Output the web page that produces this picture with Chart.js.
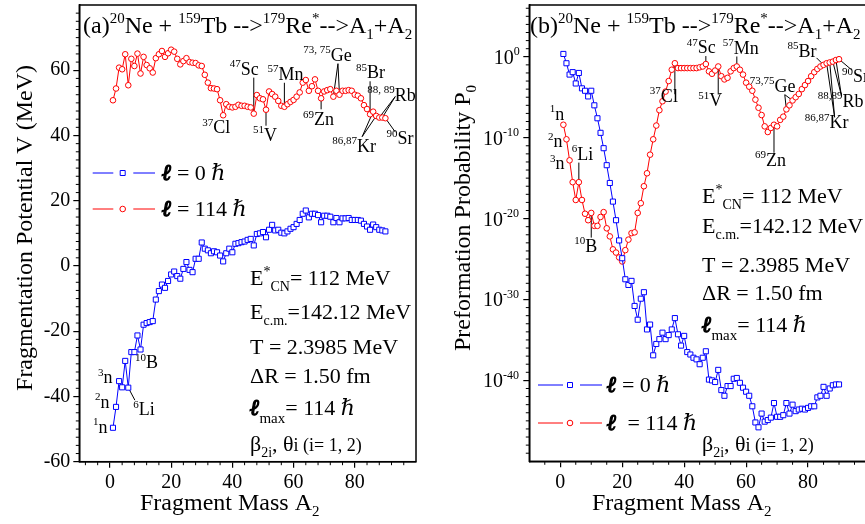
<!DOCTYPE html>
<html lang="en">
<head>
<meta charset="utf-8">
<title>Fragmentation potential and preformation probability</title>
<script src="https://cdn.jsdelivr.net/npm/chart.js@4.4.1/dist/chart.umd.min.js"></script>
<style>
  html, body { margin: 0; padding: 0; background: #fff; overflow: hidden; }
  #wrap { position: relative; width: 865px; height: 524px; overflow: hidden; }
  canvas { position: absolute; top: 0; }
</style>
</head>
<body>
<div id="wrap">
  <canvas id="potChart" width="440" height="524" style="left:0"></canvas>
  <canvas id="probChart" width="440" height="524" style="left:440px"></canvas>
</div>
<script>
// fragment mass A2 (x values of every series)
const fragMass = [1,2,3,4,5,6,7,8,9,10,11,12,13,14,15,16,17,18,19,20,
  21,22,23,24,25,26,27,28,29,30,31,32,33,34,35,36,37,38,39,40,
  41,42,43,44,45,46,47,48,49,50,51,52,53,54,55,56,57,58,59,60,
  61,62,63,64,65,66,67,68,69,70,71,72,73,74,75,76,77,78,79,80,
  81,82,83,84,85,86,87,88,89,90];

// (a) fragmentation potential V (MeV)
const potL0 = [-49.6,-43.2,-35.3,-37.2,-29.1,-37.3,-26.4,-26.4,-21.3,-25.6,
  -18.0,-17.5,-17.2,-16.9,-10.3,-7.7,-5.7,-6.7,-4.6,-2.6,
  -1.7,-3.1,-3.9,-0.9,1.2,-1.2,-1.9,2.2,2.2,7.2,
  5.3,4.8,3.9,4.5,4.2,3.2,1.4,3.9,5.3,4.2,
  6.8,7.0,7.3,7.5,8.0,8.3,6.3,9.8,10.0,10.4,
  8.8,11.1,12.6,10.9,11.1,10.2,10.0,10.6,11.4,11.9,
  12.9,14.1,16.0,17.0,14.9,16.0,16.0,15.6,13.4,15.4,
  15.4,15.1,13.4,14.7,13.4,14.6,14.6,14.7,14.1,14.1,
  14.1,13.9,12.9,12.1,11.1,12.7,11.9,11.1,10.9,10.6];
const potL114 = [50.8,54.4,60.8,60.3,64.9,55.4,63.5,61.3,65.1,59.0,
  64.1,61.6,60.6,59.3,63.7,64.9,65.9,64.1,65.2,66.3,
  65.7,63.5,61.8,62.8,63.7,62.5,62.3,62.2,61.5,61.3,
  58.6,56.2,54.5,54.4,54.2,50.8,46.2,49.6,48.8,48.6,
  48.8,49.4,49.1,49.1,48.8,48.6,46.7,52.4,51.4,51.1,
  47.9,53.5,52.7,51.9,50.6,49.1,48.8,49.6,50.3,50.9,
  51.9,53.2,56.2,57.0,53.7,55.1,57.2,53.7,51.4,53.5,
  53.9,54.2,51.9,53.7,52.5,53.7,53.7,53.9,53.7,52.5,
  52.2,51.4,49.3,48.1,46.5,47.3,46.0,45.5,45.5,45.3];

// (b) preformation probability P0, stored as log10(P0)
const logP0L0 = [0.35,-0.8,-2.2,-1.9,-3.3,-2.0,-3.9,-4.2,-4.9,-4.2,
  -6.0,-7.6,-9.4,-11.3,-13.4,-15.6,-17.9,-20.2,-22.7,-24.9,
  -27.5,-28.2,-27.7,-30.8,-32.5,-29.9,-29.1,-33.7,-33.1,-36.9,
  -35.5,-34.9,-34.1,-34.9,-34.4,-33.7,-32.3,-34.3,-35.7,-34.5,
  -36.5,-36.8,-37.2,-37.4,-38.0,-37.2,-36.4,-39.9,-40.0,-40.2,
  -38.7,-41.2,-41.9,-40.7,-40.7,-39.8,-39.7,-40.3,-40.9,-41.4,
  -41.9,-43.2,-45.2,-45.8,-44.1,-45.1,-44.9,-44.6,-42.8,-44.5,
  -44.5,-44.3,-42.8,-44.1,-43.0,-43.8,-43.6,-43.5,-43.6,-43.4,
  -43.2,-43.2,-42.1,-41.9,-40.8,-41.9,-41.0,-40.6,-40.5,-40.5];
const logP0L114 = [-8.4,-10.2,-12.8,-15.5,-17.7,-15.5,-17.7,-19.4,-20.2,-19.3,
  -20.9,-20.9,-19.8,-19.2,-21.2,-22.2,-23.8,-24.2,-24.8,-25.3,
  -23.9,-22.6,-21.8,-21.7,-19.3,-18.1,-16.0,-14.4,-12.1,-10.2,
  -8.5,-6.6,-5.5,-4.3,-3.0,-1.6,-0.8,-1.4,-1.4,-1.4,
  -1.4,-1.4,-1.4,-1.4,-1.3,-1.2,-0.9,-1.8,-2.1,-1.7,
  -1.2,-2.4,-2.8,-2.6,-1.8,-1.4,-1.2,-1.6,-2.2,-3.2,
  -3.7,-4.2,-5.3,-6.3,-7.2,-8.6,-9.3,-8.8,-8.4,-8.6,
  -7.8,-7.4,-6.5,-6.0,-5.4,-5.0,-4.6,-4.0,-3.5,-3.0,
  -2.4,-1.9,-1.5,-1.2,-1.0,-0.8,-0.7,-0.6,-0.4,-0.3];

// tick labels
const massTicks = [0, 20, 40, 60, 80];
const potTicks = [-60, -40, -20, 0, 20, 40, 60];
const probTickExp = [0, -10, -20, -30, -40];

const SERIF = "'Liberation Serif','DejaVu Serif','Times New Roman',serif";
const BLUE = '#0000ff';
const RED = '#ff0000';

function font(size, style) {
  return (style ? style + ' ' : '') + size + 'px ' + SERIF;
}

// text with super/subscripts: parts = [text, kind, style]
const KINDS = {
  n: [1, 0], sup: [0.62, -0.42], sub: [0.62, 0.26], lsub: [0.66, 0.38], sm: [0.82, 0]
};
function rich(ctx, x, y, parts, size) {
  ctx.save();
  ctx.fillStyle = '#000';
  ctx.strokeStyle = '#000';
  ctx.textAlign = 'left';
  ctx.textBaseline = 'alphabetic';
  for (const [t, k, st] of parts) {
    const [f, d] = KINDS[k || 'n'];
    ctx.font = font(Math.round(size * f), st);
    ctx.fillText(t, x, y + d * size);
    if (st && st.indexOf('bold') >= 0) {
      // heavier script l, as in the original
      ctx.lineWidth = 1.3;
      ctx.strokeText(t, x, y + d * size);
    }
    x += ctx.measureText(t).width;
  }
  ctx.restore();
  return x;
}

function reaction(tag) {
  return [[tag], ['20', 'sup'], ['Ne + '], ['159', 'sup'], ['Tb -->'], ['179', 'sup'],
    ['Re'], ['*', 'sup'], ['-->A'], ['1', 'sub'], ['+A'], ['2', 'sub']];
}

const paramLines = [
  [['E'], ['*', 'sup'], ['CN', 'sub'], ['= 112 MeV']],
  [['E'], ['c.m.', 'sub'], ['=142.12 MeV']],
  [['T = 2.3985 MeV']],
  [['\u0394R = 1.50 fm']],
  [['\u2113', 'n', 'bold italic'], ['max', 'lsub'], ['= 114 '], ['\u210F', 'n', 'italic']],
  [['\u03B2'], ['2i', 'sub'], [', \u03B8'], ['i (i= 1, 2)', 'sm']]
];

function marker(ctx, shape, color, x, y) {
  ctx.save();
  ctx.strokeStyle = color;
  ctx.fillStyle = '#fff';
  ctx.lineWidth = 1;
  ctx.beginPath();
  if (shape === 'rect') ctx.rect(x - 2.5, y - 2.5, 5, 5);
  else ctx.arc(x, y, 2.8, 0, Math.PI * 2);
  ctx.fill();
  ctx.stroke();
  ctx.restore();
}

function legendRow(ctx, row) {
  ctx.save();
  ctx.strokeStyle = row.color;
  ctx.lineWidth = 1;
  ctx.beginPath();
  ctx.moveTo(row.segs[0], row.y); ctx.lineTo(row.segs[1], row.y);
  ctx.moveTo(row.segs[2], row.y); ctx.lineTo(row.segs[3], row.y);
  ctx.stroke();
  ctx.restore();
  marker(ctx, row.shape, row.color, row.mx, row.y);
  rich(ctx, row.tx, row.y + 7, row.text, 22);
}

function isoLabel(ctx, x, y, mass, sym) {
  rich(ctx, x, y, [[mass, 'sup'], [sym]], 18);
}

function minorTicks(chart, axis, values, len) {
  const sc = chart.scales[axis], ca = chart.chartArea, ctx = chart.ctx;
  ctx.save();
  ctx.strokeStyle = '#000';
  ctx.lineWidth = 1;
  ctx.beginPath();
  values.forEach(v => {
    const p = sc.getPixelForValue(v);
    if (axis === 'x') { ctx.moveTo(p, ca.bottom); ctx.lineTo(p, ca.bottom + len); }
    else { ctx.moveTo(ca.left, p); ctx.lineTo(ca.left - len, p); }
  });
  ctx.stroke();
  ctx.restore();
}

// plugin that draws frame, minor ticks, titles, legend and isotope labels
function makeDecor(cfg) {
  return {
    id: 'decor',
    beforeDatasetsDraw(chart) {
      const ctx = chart.ctx;
      ctx.save();
      ctx.strokeStyle = '#000';
      ctx.lineWidth = 1;
      cfg.labels.forEach(l => {
        if (!l.from) return;
        const meta = chart.getDatasetMeta(l.ds);
        const p0 = meta.data[l.pts[0] - 1];
        const fx = p0.x + l.from[0], fy = p0.y + l.from[1];
        l.pts.forEach(a => {
          const p = meta.data[a - 1];
          ctx.beginPath();
          ctx.moveTo(fx, fy);
          ctx.lineTo(p.x, p.y);
          ctx.stroke();
        });
      });
      ctx.restore();
    },
    afterDraw(chart) {
      const ctx = chart.ctx, ca = chart.chartArea;
      minorTicks(chart, 'x', cfg.minorX, 3.5);
      minorTicks(chart, 'y', cfg.minorY, 3.5);
      ctx.save();
      ctx.strokeStyle = '#000';
      ctx.lineWidth = 1.5;
      ctx.strokeRect(ca.left, ca.top, ca.right - ca.left, ca.bottom - ca.top);
      ctx.restore();
      if (cfg.extra) cfg.extra(chart);
      // axis titles
      rich(ctx, cfg.xTitle.x, 510, [['Fragment Mass A'], ['2', 'sub']], 24);
      ctx.save();
      ctx.translate(cfg.yTitle.x, cfg.yTitle.y);
      ctx.rotate(-Math.PI / 2);
      let w = 0;
      cfg.yTitle.parts.forEach(([t, k]) => {
        ctx.font = font(Math.round(24 * KINDS[k || 'n'][0]));
        w += ctx.measureText(t).width;
      });
      rich(ctx, -w / 2, 8, cfg.yTitle.parts, 24);
      ctx.restore();
      // reaction title
      rich(ctx, cfg.title.x, 33, reaction(cfg.title.tag), 24);
      // legend
      cfg.legend.forEach(row => legendRow(ctx, row));
      // parameter block
      paramLines.forEach((line, i) => rich(ctx, cfg.params.x, cfg.params.ys[i], line, 22));
      // isotope labels
      cfg.labels.forEach(l => {
        const p = chart.getDatasetMeta(l.ds).data[l.pts[0] - 1];
        isoLabel(ctx, p.x + l.dx, p.y + l.dy, l.mass, l.sym);
      });
    }
  };
}

const tickFont = { family: SERIF, size: 20 };

function xAxis(heightPx) {
  return {
    type: 'linear', min: -10, max: 100,
    ticks: { font: tickFont, color: '#000', padding: 3, maxRotation: 0 },
    grid: { drawOnChartArea: false, tickLength: 6, color: '#000', lineWidth: 1.2 },
    border: { color: '#000', width: 1.5 },
    afterBuildTicks: s => { s.ticks = massTicks.map(v => ({ value: v })); },
    afterFit: s => { s.height = heightPx; s.paddingLeft = 0; s.paddingRight = 0; }
  };
}

function series(values, color, shape, transform) {
  return {
    data: fragMass.map((a, i) => ({ x: a, y: transform ? transform(values[i]) : values[i] })),
    borderColor: color,
    borderWidth: 1,
    pointStyle: shape,
    pointRadius: shape === 'rect' ? 3.6 : 2.8,
    pointBorderColor: color,
    pointBackgroundColor: '#fff',
    pointBorderWidth: 1,
    tension: 0,
    fill: false
  };
}

const minorMassA = [];
for (let v = -8; v <= 100; v += 4) if (v % 20 !== 0) minorMassA.push(v);
const minorPot = [];
for (let v = -57.5; v < 80; v += 2.5) if (v % 20 !== 0) minorPot.push(v);
const minorMassB = [];
for (let v = -5; v <= 100; v += 5) if (v % 20 !== 0) minorMassB.push(v);
const minorProb = [];
for (let e = -49; e <= 6; e++) if (e % 10 !== 0) minorProb.push(Math.pow(10, e));

const potLabels = [
  { ds: 1, pts: [37], dx: -21, dy: 18, mass: '37', sym: 'Cl' },
  { ds: 1, pts: [47], dx: -24, dy: -39, mass: '47', sym: 'Sc', from: [0, -36] },
  { ds: 1, pts: [51], dx: -13, dy: 31, mass: '51', sym: 'V', from: [0, 16] },
  { ds: 1, pts: [57], dx: -17, dy: -27, mass: '57', sym: 'Mn', from: [0, -24] },
  { ds: 1, pts: [69], dx: -18, dy: 27, mass: '69', sym: 'Zn', from: [0, 11] },
  { ds: 1, pts: [73, 75], dx: -30, dy: -36, mass: '73, 75', sym: 'Ge', from: [4.6, -33] },
  { ds: 1, pts: [85], dx: -14, dy: -36, mass: '85', sym: 'Br', from: [0, -33] },
  { ds: 1, pts: [88, 89], dx: -12, dy: -17, mass: '88, 89', sym: 'Rb', from: [16, -21] },
  { ds: 1, pts: [86, 87], dx: -41, dy: 40, mass: '86,87', sym: 'Kr', from: [-11, 25] },
  { ds: 1, pts: [90], dx: 1, dy: 26, mass: '90', sym: 'Sr', from: [10, 14] },
  { ds: 0, pts: [1], dx: -20, dy: 5, mass: '1', sym: 'n' },
  { ds: 0, pts: [2], dx: -21, dy: 1, mass: '2', sym: 'n' },
  { ds: 0, pts: [3], dx: -21, dy: 2, mass: '3', sym: 'n' },
  { ds: 0, pts: [6], dx: 5, dy: 27.5, mass: '6', sym: 'Li', from: [6.6, 12.5] },
  { ds: 0, pts: [10], dx: -5.6, dy: 19, mass: '10', sym: 'B' }
];

const probLabels = [
  { ds: 1, pts: [1], dx: -13.5, dy: -5, mass: '1', sym: 'n' },
  { ds: 1, pts: [2], dx: -18.5, dy: 8, mass: '2', sym: 'n' },
  { ds: 1, pts: [3], dx: -19.6, dy: 9, mass: '3', sym: 'n' },
  { ds: 1, pts: [6], dx: -7, dy: -22.6, mass: '6', sym: 'Li', from: [0, -19.6] },
  { ds: 1, pts: [10], dx: -17, dy: 39, mass: '10', sym: 'B', from: [0, 24.7] },
  { ds: 1, pts: [37], dx: -25, dy: 38.5, mass: '37', sym: 'Cl', from: [0, 31] },
  { ds: 1, pts: [47], dx: -19, dy: -11, mass: '47', sym: 'Sc', from: [0, -8] },
  { ds: 1, pts: [51], dx: -20, dy: 40, mass: '51', sym: 'V', from: [0, 28] },
  { ds: 1, pts: [57], dx: -14, dy: -12.7, mass: '57', sym: 'Mn', from: [0, -10] },
  { ds: 1, pts: [73, 75], dx: -36.6, dy: -17.7, mass: '73,75', sym: 'Ge', from: [-1.6, -14.7] },
  { ds: 1, pts: [69], dx: -19, dy: 41, mass: '69', sym: 'Zn', from: [0, 28] },
  { ds: 1, pts: [85], dx: -36, dy: -8, mass: '85', sym: 'Br', from: [-7, -7] },
  { ds: 1, pts: [88, 89], dx: -15, dy: 45, mass: '88,89', sym: 'Rb', from: [8.6, 34] },
  { ds: 1, pts: [86, 87], dx: -22, dy: 65, mass: '86,87', sym: 'Kr', from: [8, 54] },
  { ds: 1, pts: [90], dx: 3, dy: 23, mass: '90', sym: 'Sr', from: [13, 11] }
];

const l0Text = [['\u2113', 'n', 'bold italic'], [' = 0 '], ['\u210F', 'n', 'italic']];
const l114Text = [['\u2113', 'n', 'bold italic'], [' = 114 '], ['\u210F', 'n', 'italic']];
const l114TextB = [['\u2113', 'n', 'bold italic'], ['  = 114 '], ['\u210F', 'n', 'italic']];

// (a) fragmentation potential
new Chart(document.getElementById('potChart'), {
  type: 'line',
  data: { datasets: [series(potL0, BLUE, 'rect'), series(potL114, RED, 'circle')] },
  options: {
    responsive: false,
    animation: false,
    layout: { padding: { top: 5, right: 24, left: 0, bottom: 0 } },
    plugins: { legend: { display: false }, tooltip: { enabled: false } },
    scales: {
      x: xAxis(62.3),
      y: {
        min: -60, max: 80,
        ticks: { font: tickFont, color: '#000', padding: 3 },
        grid: { drawOnChartArea: false, tickLength: 6, color: '#000', lineWidth: 1.2 },
        border: { color: '#000', width: 1.5 },
        afterBuildTicks: s => { s.ticks = potTicks.map(v => ({ value: v })); },
        afterFit: s => { s.width = 79.3; s.paddingTop = 0; s.paddingBottom = 0; }
      }
    }
  },
  plugins: [makeDecor({
    minorX: minorMassA, minorY: minorPot,
    xTitle: { x: 140 },
    yTitle: { x: 24, y: 228, parts: [['Fragmentation Potential V (MeV)']] },
    title: { x: 83, tag: '(a)' },
    legend: [
      { y: 173, segs: [92.7, 113.3, 133.3, 155], mx: 122.7, tx: 162, color: BLUE, shape: 'rect', text: l0Text },
      { y: 209, segs: [92.7, 113.3, 133.3, 155], mx: 122.7, tx: 162, color: RED, shape: 'circle', text: l114Text }
    ],
    params: { x: 250, ys: [285, 319, 354, 383, 415, 451] },
    labels: potLabels
  })]
});

// (b) preformation probability
new Chart(document.getElementById('probChart'), {
  type: 'line',
  data: {
    datasets: [
      series(logP0L0, BLUE, 'rect', e => Math.pow(10, e)),
      series(logP0L114, RED, 'circle', e => Math.pow(10, e))
    ]
  },
  options: {
    responsive: false,
    animation: false,
    layout: { padding: { top: 5, right: 10, left: 0, bottom: 0 } },
    plugins: { legend: { display: false }, tooltip: { enabled: false } },
    scales: {
      x: xAxis(62.7),
      y: {
        type: 'logarithmic', min: 1e-50, max: Math.pow(10, 6.4),
        ticks: { display: false },
        grid: { drawOnChartArea: false, tickLength: 6, color: '#000', lineWidth: 1.2 },
        border: { color: '#000', width: 1.5 },
        afterBuildTicks: s => { s.ticks = probTickExp.map(e => ({ value: Math.pow(10, e) })); },
        afterFit: s => { s.width = 89.3; s.paddingTop = 0; s.paddingBottom = 0; }
      }
    }
  },
  plugins: [makeDecor({
    minorX: minorMassB, minorY: minorProb,
    xTitle: { x: 152 },
    yTitle: { x: 22, y: 218, parts: [['Preformation Probability P'], ['0', 'sub']] },
    title: { x: 90, tag: '(b)' },
    legend: [
      { y: 385, segs: [98, 123, 140, 162], mx: 130, tx: 167, color: BLUE, shape: 'rect', text: l0Text },
      { y: 423, segs: [98, 123, 140, 162], mx: 130, tx: 167, color: RED, shape: 'circle', text: l114TextB }
    ],
    params: { x: 262, ys: [203, 233, 272, 300, 332, 451] },
    labels: probLabels,
    extra(chart) {
      // 10^n tick labels on the log axis
      const ctx = chart.ctx, sc = chart.scales.y, left = chart.chartArea.left;
      probTickExp.forEach(e => {
        const y = sc.getPixelForValue(Math.pow(10, e));
        ctx.save();
        ctx.font = font(13);
        const we = ctx.measureText(String(e)).width;
        ctx.font = font(20);
        const wb = ctx.measureText('10').width;
        ctx.restore();
        rich(ctx, left - 9 - we - wb, y + 7, [['10', 'n'], [String(e), 'sup']], 20);
      });
    }
  })]
});
</script>
</body>
</html>
